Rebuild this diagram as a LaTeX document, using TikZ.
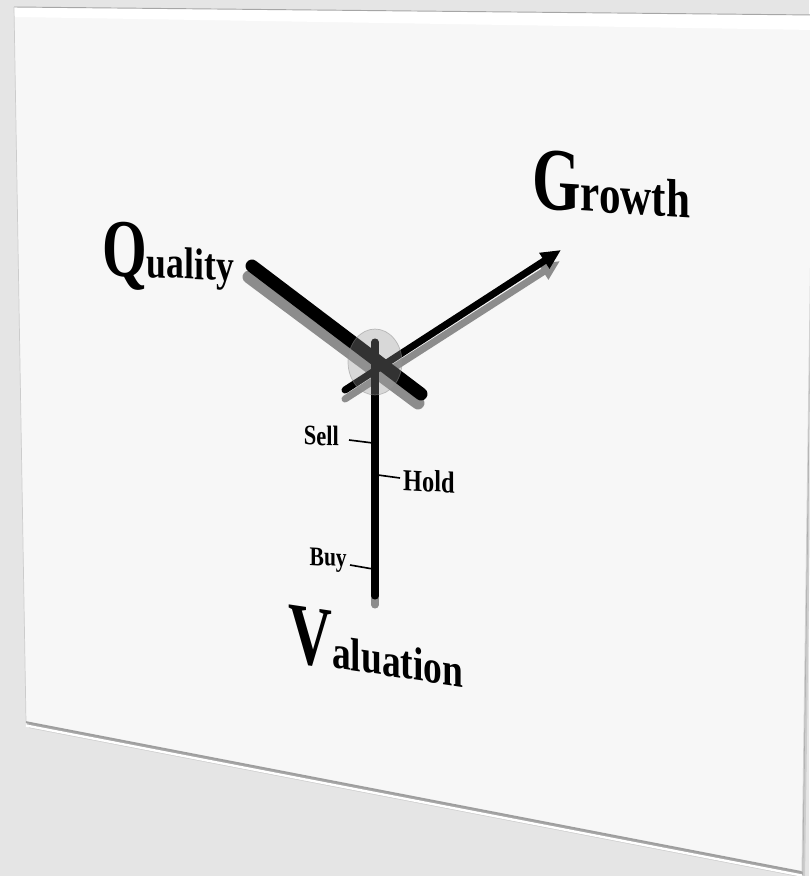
\documentclass[tikz,border=0pt]{standalone}
\usepackage{fontspec}
\newfontfamily\clockfont[FakeStretch=0.80]{Liberation Serif}
\newfontfamily\capfont[FakeStretch=0.70]{Liberation Serif}
\usetikzlibrary{arrows.meta}
\definecolor{wallgray}{HTML}{E5E5E5}
\definecolor{panelwhite}{HTML}{F7F7F7}
\definecolor{shadowgray}{HTML}{8C8C8C}
\tikzset{
	handline/.style={line width=#1, line cap=round, black},
	handshadow/.style={line width=#1, line cap=round, shadowgray},
	bigword/.style={font=\clockfont\bfseries, anchor=base west, inner sep=0pt, transform shape},
	smallword/.style={font=\clockfont\bfseries\fontsize{#1}{#1}\selectfont, inner sep=0pt, transform shape},
	tickline/.style={line width=1.4pt, black}
}
\newcommand{\capsize}[1]{\fontsize{#1}{#1}\selectfont}
\begin{document}
\begin{tikzpicture}[x=0.03cm, y=-0.03cm]

	\useasboundingbox (0,0) rectangle (809,876);

	\begin{scope}
		\fill[wallgray] (0,0) rectangle (809,876);

		\coordinate (pTL) at (14,7);
		\coordinate (pTR) at (814,15);
		\coordinate (pBR) at (802,872);
		\coordinate (pBL) at (26,722);

		\fill[black, opacity=0.10] ([shift={(3,6)}]pTL) -- ([shift={(3,6)}]pTR) -- ([shift={(3,6)}]pBR) -- ([shift={(3,6)}]pBL) -- cycle;
		\fill[black, opacity=0.18] ([shift={(1,3)}]pTL) -- ([shift={(1,3)}]pTR) -- ([shift={(1,3)}]pBR) -- ([shift={(1,3)}]pBL) -- cycle;
		\fill[panelwhite] (pTL) -- (pTR) -- (pBR) -- (pBL) -- cycle;
		\fill[white] (pTL) -- (pTR) -- (814,30) -- (15,17) -- cycle;
		\draw[black!35, line width=0.8pt] (pTL) -- (pTR);
		\draw[black!20, line width=0.6pt] (pTL) -- (pBL);
		\draw[white, line width=2pt] ([yshift=-3]pBL) -- ([yshift=-3]pBR);
		\draw[black!38, line width=1.4pt] (pBL) -- (pBR);
		\draw[black!18, line width=0.8pt] (pTR) -- (pBR);
	\end{scope}

	\begin{scope}
		\coordinate (hub) at (375,362);
		\coordinate (qTail) at (252,266);
		\coordinate (qTip) at (421,394);
		\coordinate (gTail) at (345,390);
		\coordinate (gTip) at (561,250);
		\coordinate (vTop) at (375,342);
		\coordinate (vEnd) at (375,596);

		\draw[handshadow=6pt] ([shift={(0,9)}]vTop) -- ([shift={(0,9)}]vEnd);
		\draw[handshadow=11pt] ([shift={(-3,11)}]qTail) -- ([shift={(-3,9)}]qTip);
		\draw[handshadow=6pt, -{Triangle[length=17pt, width=15pt]}] ([shift={(0,9)}]gTail) -- ([shift={(-1,11)}]gTip);

		\draw[handline=6pt] (vTop) -- (vEnd);
		\draw[handline=6pt, -{Triangle[length=17pt, width=15pt]}] (gTail) -- (gTip);
		\draw[handline=11pt] (qTail) -- (qTip);

		\fill[black!40, opacity=0.33] (hub) ellipse [x radius=27, y radius=33];
		\draw[black!45, opacity=0.5, line width=0.6pt] (hub) ellipse [x radius=27, y radius=33];
	\end{scope}

	\begin{scope}
		\coordinate (sellIn) at (373,443);
		\coordinate (sellOut) at (349,440);
		\coordinate (holdIn) at (378,475);
		\coordinate (holdOut) at (400,478);
		\coordinate (buyIn) at (373,569);
		\coordinate (buyOut) at (350,565);

		\draw[tickline] (sellIn) -- (sellOut);
		\draw[tickline] (holdIn) -- (holdOut);
		\draw[tickline] (buyIn) -- (buyOut);

		\node[smallword=24, anchor=base east, yslant=-0.03] (sell) at (339,446) {Sell};
		\node[smallword=26, anchor=base west, yslant=-0.06] (hold) at (403,490) {Hold};
		\node[smallword=23, anchor=base east, yslant=-0.05] (buy) at (347,567) {Buy};
	\end{scope}

	\node[bigword, yslant=-0.045] (quality) at (102,275) {{\capfont\capsize{70}Q}{\capsize{38}uality}};
	\node[bigword, yslant=-0.06] (growth) at (532,208) {{\capfont\capsize{76}G}{\capsize{46}rowth}};
	\node[bigword, yslant=-0.15] (valuation) at (288,661) {{\capfont\capsize{74}V}{\capsize{40}aluation}};

\end{tikzpicture}
\end{document}
